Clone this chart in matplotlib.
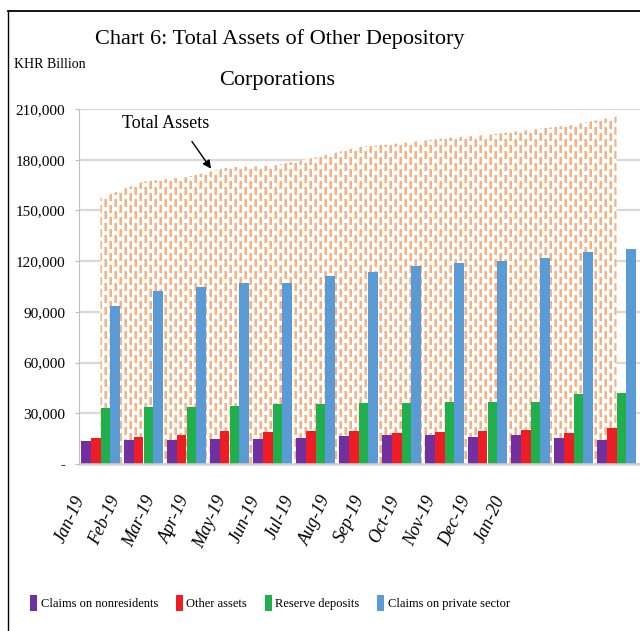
import numpy as np
import matplotlib
matplotlib.use("Agg")
import matplotlib.pyplot as plt
from matplotlib.patches import Patch
from matplotlib.lines import Line2D
from matplotlib.transforms import blended_transform_factory

# ---------------- data ----------------
months = ["Jan-19", "Feb-19", "Mar-19", "Apr-19", "May-19", "Jun-19", "Jul-19",
          "Aug-19", "Sep-19", "Oct-19", "Nov-19", "Dec-19", "Jan-20"]
total_assets = [157300, 167100, 169700, 175600, 176400, 181300, 187400,
                189800, 192700, 194700, 197700, 200600, 205600]
claims_nonres = [13600, 14400, 14000, 15000, 14800, 15400, 16800,
                 17000, 17400, 15800, 17000, 15200, 14200]
other_assets = [15400, 15800, 17000, 19700, 18800, 19300, 19300,
                18100, 19100, 19700, 20300, 18100, 21500]
reserve_dep = [33300, 33900, 33700, 34500, 35300, 35700, 35900,
               36300, 36700, 36700, 36500, 41600, 41800]
claims_priv = [93500, 102400, 104600, 107000, 107300, 111300, 113800,
               117200, 119000, 120000, 121900, 125300, 126900]
series_names = ["Claims on nonresidents", "Other assets", "Reserve deposits",
                "Claims on private sector"]
y_ticks = [0, 30000, 60000, 90000, 120000, 150000, 180000, 210000]

colors = ["#7030A0", "#EE1D23", "#1FAF4B", "#5B9BD5"]
orange = "#F4B183"
serif = ["Liberation Serif", "DejaVu Serif"]
plt.rcParams["font.family"] = serif

W_PX, H_PX = 640, 631
fig = plt.figure(figsize=(6.4, 6.31), dpi=100)
fig.patch.set_facecolor("white")

# axes placement in pixels
ax_l, ax_r, ax_t, ax_b = 79, 640, 109, 464
ax = fig.add_axes([ax_l / W_PX, 1 - ax_b / H_PX, (ax_r - ax_l) / W_PX, (ax_b - ax_t) / H_PX])
cat_w = 43.0
x0 = -0.5
x1 = x0 + (ax_r - ax_l) / cat_w

x = np.arange(len(months))

ax.set_xlim(x0, x1)
ax.set_ylim(0, 210000)

# grid
ax.set_yticks(y_ticks)
ax.yaxis.grid(True, color="#D9D9D9", lw=1.6, zorder=0)
ax.set_axisbelow(True)
ax.set_xticks([])

# area: white base + dashed orange texture clipped to the area shape
base = ax.fill_between(x, total_assets, 0, facecolor="white", edgecolor="none", zorder=1)
area_path = base.get_paths()[0]
axw, axh = ax_r - ax_l, ax_b - ax_t
tile = np.zeros((12, 10))
tile[0:8, 0:3] = 1.0
tile[6:12, 5:8] = 1.0
tile[0:2, 5:8] = 1.0
tile[0:8, 0] = 0.6
tile[6:12, 5] = 0.6
tile[0:2, 5] = 0.6
mask = np.tile(tile, (axh // 12 + 1, axw // 10 + 1))[:axh, :axw]
rgba = np.zeros((axh, axw, 4))
oc = matplotlib.colors.to_rgb(orange)
rgba[..., 0], rgba[..., 1], rgba[..., 2] = oc
rgba[..., 3] = mask
im = ax.imshow(rgba, extent=(x0, x1, 0, 210000), aspect="auto",
               interpolation="nearest", zorder=1.5, origin="upper")
im.set_clip_path(area_path, transform=ax.transData)
ax.set_xlim(x0, x1)
ax.set_ylim(0, 210000)

# bars
bw = 0.2267
series = [claims_nonres, other_assets, reserve_dep, claims_priv]
for k, (vals, c) in enumerate(zip(series, colors)):
    ax.bar(x + (k - 1.5) * bw, vals, width=bw, color=c, edgecolor="none", zorder=3)

# spines
for s in ["top", "right"]:
    ax.spines[s].set_visible(False)
ax.spines["left"].set_color("#BFBFBF")
ax.spines["left"].set_linewidth(0.8)
ax.spines["bottom"].set_color("#D0D0D0")
ax.spines["bottom"].set_linewidth(1.8)
ax.spines["bottom"].set_zorder(4)

# y tick labels
ax.set_yticklabels(["-" if v == 0 else f"{v:,}" for v in y_ticks], fontsize=11)
for lab in ax.get_yticklabels():
    if lab.get_text() == "-":
        lab.set_fontweight("bold")
ax.tick_params(axis="y", length=3, color="#BFBFBF", pad=7)

# category labels (placed as in the reference, spaced 35 px starting at 70 px)
lab_px = 70 + 35 * np.arange(len(months))
lab_x = (lab_px - ax_l) / cat_w + x0
lab_y = -(493 - ax_b) / (ax_b - ax_t)
trans = blended_transform_factory(ax.transData, ax.transAxes)
for xi, m in zip(lab_x, months):
    ax.text(xi, lab_y, m, transform=trans, rotation=65, fontsize=13, style="italic",
            ha="center", va="top", clip_on=False)

# annotation
tip_x = (211 - ax_l) / cat_w + x0
txt_x = (166 - ax_l) / cat_w + x0
ax.annotate("Total Assets", xy=(tip_x, 174700), xytext=(txt_x, 201500),
            fontsize=13, ha="center", va="center", zorder=6, annotation_clip=False,
            arrowprops=dict(arrowstyle="-|>", color="black", lw=1.0,
                            mutation_scale=12, relpos=(0.72, 0.0), shrinkA=6, shrinkB=0))

# title and unit label
fig.text(280 / W_PX, 1 - 44 / H_PX, "Chart 6: Total Assets of Other Depository",
         ha="center", va="baseline", fontsize=16)
fig.text(277 / W_PX, 1 - 85 / H_PX, "Corporations", ha="center", va="baseline", fontsize=16)
fig.text(14 / W_PX, 1 - 68 / H_PX, "KHR Billion", ha="left", va="baseline", fontsize=10)

# legend
handles = [Patch(facecolor=c, edgecolor="none") for c in colors]
fig.legend(handles, series_names, loc="center", bbox_to_anchor=(270 / W_PX, 1 - 603 / H_PX),
           ncol=4, frameon=False, fontsize=9, handlelength=0.56, handleheight=1.6,
           handletextpad=0.3, columnspacing=1.4, borderpad=0, borderaxespad=0)

# outer frame (top and left edges visible in crop)
fig.add_artist(Line2D([8 / W_PX, 1.0], [1 - 11 / H_PX, 1 - 11 / H_PX],
                      transform=fig.transFigure, color="black", lw=1.3))
fig.add_artist(Line2D([8 / W_PX, 8 / W_PX], [0, 1 - 11 / H_PX],
                      transform=fig.transFigure, color="black", lw=1.0))

fig.savefig("out.png", dpi=100, facecolor="white")
